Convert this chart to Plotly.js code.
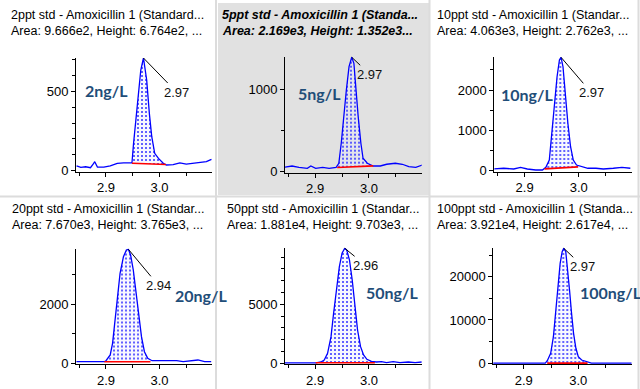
<!DOCTYPE html>
<html>
<head>
<meta charset="utf-8">
<script src="https://cdn.plot.ly/plotly-3.0.1.min.js"></script>
<style>html,body{margin:0;padding:0;background:#fff}#chart{width:640px;height:389px}</style>
</head>
<body>
<div id="chart"></div>
<script>
// ---------- DATA ----------
const titles1 = ["2ppt std - Amoxicillin 1 (Standard...", "5ppt std - Amoxicillin 1 (Standa...", "10ppt std - Amoxicillin 1 (Standar...",
                 "20ppt std - Amoxicillin 1 (Standar...", "50ppt std - Amoxicillin 1 (Standar...", "100ppt std - Amoxicillin 1 (Standa..."];
const titles2 = ["Area: 9.666e2, Height: 6.764e2, ...", "Area: 2.169e3, Height: 1.352e3...", "Area: 4.063e3, Height: 2.762e3, ...",
                 "Area: 7.670e3, Height: 3.765e3, ...", "Area: 1.881e4, Height: 9.703e3, ...", "Area: 3.921e4, Height: 2.617e4, ..."];
const concLabels = ["2ng/L", "5ng/L", "10ng/L", "20ng/L", "50ng/L", "100ng/L"];
const peakLabels = ["2.97", "2.97", "2.97", "2.94", "2.96", "2.97"];
const xTickLabels = ["2.9", "3.0"];

const p1x = [2.845, 2.853, 2.862, 2.871, 2.876, 2.879, 2.884, 2.896, 2.908, 2.921, 2.933, 2.945, 2.9485, 2.9515, 2.956, 2.961, 2.965, 2.970, 2.976, 2.981, 2.9855, 2.991, 2.998, 3.007, 3.013, 3.0255, 3.038, 3.050, 3.0625, 3.075, 3.0875, 3.097];
const p1y = [30, 20, 24, 18, 40, 56, 22, 22, 30, 46, 48, 48, 48, 172, 320, 489, 636, 712, 573, 362, 214, 109, 77, 46, 35, 38, 49, 41, 46, 49, 56, 71];
const p1bx = [2.9485, 3.012], p1by = [46, 38];

const p2x = [2.8415, 2.857, 2.870, 2.8855, 2.892, 2.901, 2.914, 2.926, 2.939, 2.944, 2.9485, 2.953, 2.958, 2.963, 2.968, 2.972, 2.9755, 2.980, 2.985, 2.989, 2.997, 3.008, 3.021, 3.033, 3.049, 3.062, 3.074, 3.087, 3.099];
const p2y = [53, 69, 53, 41, 69, 41, 53, 41, 53, 102, 345, 668, 992, 1275, 1389, 1316, 992, 668, 345, 163, 102, 69, 69, 90, 102, 90, 61, 53, 81];
const p2bx = [2.941, 3.008], p2by = [50, 70];

const p3x = [2.8427, 2.8614, 2.880, 2.8925, 2.905, 2.9206, 2.933, 2.9393, 2.9457, 2.950, 2.955, 2.960, 2.9644, 2.9674, 2.971, 2.975, 2.980, 2.985, 2.990, 2.996, 3.005, 3.017, 3.032, 3.0455, 3.064, 3.080, 3.0955];
const p3y = [42, 60, 42, 84, 42, 17, 17, 84, 265, 843, 1671, 2331, 2745, 2812, 2579, 1920, 1176, 595, 265, 141, 99, 60, 60, 42, 60, 84, 60];
const p3bx = [2.937, 2.999], p3by = [45, 95];

const p4x = [2.8448, 2.8724, 2.8969, 2.900, 2.9079, 2.9123, 2.9166, 2.9215, 2.9263, 2.9326, 2.9381, 2.9418, 2.946, 2.951, 2.9565, 2.9613, 2.9663, 2.9718, 2.978, 2.986, 2.995, 3.0074, 3.0197, 3.032, 3.0442, 3.0565, 3.0718, 3.0842, 3.0965];
const p4y = [54, 54, 54, 88, 281, 678, 1356, 2258, 3051, 3614, 3841, 3865, 3671, 3163, 2373, 1580, 902, 393, 170, 88, 88, 112, 88, 88, 54, 71, 112, 54, 54];
const p4bx = [2.897, 2.983], p4by = [50, 50];

const p5x = [2.8418, 2.870, 2.9013, 2.9107, 2.9169, 2.9231, 2.9295, 2.9343, 2.940, 2.945, 2.950, 2.955, 2.9587, 2.9638, 2.9689, 2.9737, 2.9788, 2.9844, 2.990, 2.9962, 3.0045, 3.0139, 3.0233, 3.0326, 3.045, 3.0576, 3.0732, 3.0857, 3.0983];
const p5y = [30, 30, 30, 110, 280, 847, 2253, 4235, 6488, 8182, 9317, 9741, 9596, 8749, 7055, 4794, 2820, 1406, 703, 339, 169, 110, 136, 51, 136, 51, 110, 51, 110];
const p5bx = [2.901, 3.011], p5by = [40, 40];

const p6x = [2.8418, 2.8728, 2.9283, 2.9394, 2.9431, 2.9493, 2.9543, 2.9585, 2.963, 2.9667, 2.9704, 2.9733, 2.977, 2.9802, 2.9839, 2.9876, 2.9913, 2.9956, 3.000, 3.0061, 3.0141, 3.024, 3.0394, 3.0672, 3.0981];
const p6y = [50, 50, 50, 50, 600, 2309, 6142, 11545, 18472, 23090, 25768, 26554, 25768, 22305, 16925, 11545, 6927, 3464, 1524, 762, 369, 50, 50, 50, 50];
const p6bx = [2.943, 3.017], p6by = [50, 50];

// ---------- LAYOUT / STYLE ----------
const W = 640, H = 389;
const panels = [
  {x: p1x, y: p1y, bx: p1bx, by: p1by, dom: [76, 212, 58, 171.5], yr: [-6, 712], dt: 500, mdt: 100, tx: 9, ty: 15, cx: 83, cy: 91, ax: 33, ay: 34},
  {x: p2x, y: p2y, bx: p2bx, by: p2by, dom: [285, 421.7, 56.7, 172.5], yr: [-10, 1396], dt: 1000, mdt: 500, tx: 220, ty: 15, cx: 296, cy: 93, ax: 18, ay: 17, sel: true},
  {x: p3x, y: p3y, bx: p3bx, by: p3by, dom: [494.3, 631.7, 57, 171.5], yr: [-20, 2820], dt: 1000, mdt: 500, tx: 435, ty: 15, cx: 499, cy: 95, ax: 30, ay: 35},
  {x: p4x, y: p4y, bx: p4bx, by: p4by, dom: [76, 212, 248.5, 364], yr: [-24, 3892], dt: 2000, mdt: 1000, tx: 10, ty: 208.5, cx: 173, cy: 295, ax: 30, ay: 36},
  {x: p5x, y: p5y, bx: p5bx, by: p5by, dom: [285, 421.7, 248, 364], yr: [-60, 9766], dt: 5000, mdt: 1000, tx: 225, ty: 208.5, cx: 364, cy: 292, ax: 21, ay: 17},
  {x: p6x, y: p6y, bx: p6bx, by: p6by, dom: [493.3, 631.7, 248, 364], yr: [-160, 26622], dt: 10000, mdt: 5000, tx: 435, ty: 208.5, cx: 578, cy: 292, ax: 19, ay: 18}
];
const XR = [2.844, 3.098];
const FONT = "Liberation Sans, Arial, sans-serif";
const TFS = 12.5;

const traces = [];
const layout = {
  width: W, height: H, margin: {l: 0, r: 0, t: 0, b: 0},
  paper_bgcolor: "#ffffff", plot_bgcolor: "rgba(0,0,0,0)",
  showlegend: false, font: {family: FONT, size: 13, color: "#000"},
  annotations: [], shapes: []
};

// separators and selected-panel background
layout.shapes.push({type: "rect", xref: "paper", yref: "paper", x0: 218/W, x1: 429/W, y0: 1 - 195/H, y1: 1 - 3/H, fillcolor: "#e1e1e1", line: {width: 0}, layer: "below"});
[[216, 0, 216, H], [429.5, 0, 429.5, H], [0, 196.5, W, 196.5], [638.5, 0, 638.5, H]].forEach(s => {
  layout.shapes.push({type: "line", xref: "paper", yref: "paper", x0: s[0]/W, x1: s[2]/W, y0: 1 - s[1]/H, y1: 1 - s[3]/H, line: {color: "#dcdcdc", width: 2}, layer: "below"});
});

panels.forEach((p, i) => {
  const n = i + 1;
  const xa = "x" + (n === 1 ? "" : n), ya = "y" + (n === 1 ? "" : n);
  const xk = "xaxis" + (n === 1 ? "" : n), yk = "yaxis" + (n === 1 ? "" : n);
  // fill polygon: baseline start, signal points inside, baseline end
  const fx = [p.bx[0]], fy = [p.by[0]];
  p.x.forEach((v, k) => { if (v > p.bx[0] && v < p.bx[1]) { fx.push(v); fy.push(p.y[k]); } });
  fx.push(p.bx[1]); fy.push(p.by[1]);
  traces.push({x: fx, y: fy, xaxis: xa, yaxis: ya, type: "scatter", mode: "lines", fill: "toself",
    fillcolor: "rgba(225,228,255,0.35)", line: {width: 0},
    fillpattern: {shape: ".", fgcolor: "#2f2fff", bgcolor: "rgba(232,234,255,0.35)", size: 4, solidity: 0.2}, hoverinfo: "skip"});
  traces.push({x: p.x, y: p.y, xaxis: xa, yaxis: ya, type: "scatter", mode: "lines", line: {color: "#0000ff", width: 1.3}});
  traces.push({x: p.bx, y: p.by, xaxis: xa, yaxis: ya, type: "scatter", mode: "lines", line: {color: "#ff0000", width: 1.6}});

  const d = p.dom;
  layout[xk] = {domain: [d[0]/W, d[1]/W], range: XR, anchor: ya, showline: true, linecolor: "#000", linewidth: 1,
    ticks: "outside", ticklen: 4, tickcolor: "#000", tickmode: "array", tickvals: [2.9, 3.0], ticktext: xTickLabels,
    minor: {ticks: "outside", ticklen: 3, tickcolor: "#000", tickmode: "linear", tick0: 2.85, dtick: 0.05},
    showgrid: false, zeroline: false, fixedrange: true, tickfont: {size: 13, color: "#000"}};
  layout[yk] = {domain: [1 - d[3]/H, 1 - d[2]/H], range: p.yr, anchor: xa, showline: true, linecolor: "#000", linewidth: 1,
    ticks: "outside", ticklen: 4, tickcolor: "#000", tickmode: "linear", tick0: 0, dtick: p.dt, tickformat: "d",
    minor: {ticks: "outside", ticklen: 3, tickcolor: "#000", tickmode: "linear", tick0: 0, dtick: p.mdt},
    showgrid: false, zeroline: false, fixedrange: true, tickfont: {size: 13, color: "#000"}};

  const t1 = p.sel ? "<b><i>" + titles1[i] + "</i></b>" : titles1[i];
  const t2 = p.sel ? "<b><i>" + titles2[i] + "</i></b>" : titles2[i];
  layout.annotations.push({xref: "paper", yref: "paper", x: p.tx/W, y: 1 - p.ty/H, xanchor: "left", yanchor: "middle", text: t1, showarrow: false, font: {size: TFS, color: "#000"}});
  layout.annotations.push({xref: "paper", yref: "paper", x: p.tx/W, y: 1 - (p.ty + 16.5)/H, xanchor: "left", yanchor: "middle", text: t2, showarrow: false, font: {size: TFS, color: "#000"}});
  layout.annotations.push({xref: "paper", yref: "paper", x: p.cx/W, y: 1 - p.cy/H, xanchor: "left", yanchor: "middle", text: "<b>" + concLabels[i] + "</b>", showarrow: false, font: {family: "Lato, sans-serif", size: 16, color: "#1f4e79"}});
  // peak retention time label with leader line
  let km = 0; p.y.forEach((v, k) => { if (v > p.y[km]) km = k; });
  layout.annotations.push({xref: xa, yref: ya, x: p.x[km], y: p.y[km], ax: p.ax, ay: p.ay, text: peakLabels[i], showarrow: true,
    arrowhead: 0, arrowwidth: 1, arrowcolor: "#000", standoff: 0, font: {size: 13, color: "#111"}});
});

Plotly.newPlot("chart", traces, layout, {staticPlot: true, displayModeBar: false});
</script>
</body>
</html>
